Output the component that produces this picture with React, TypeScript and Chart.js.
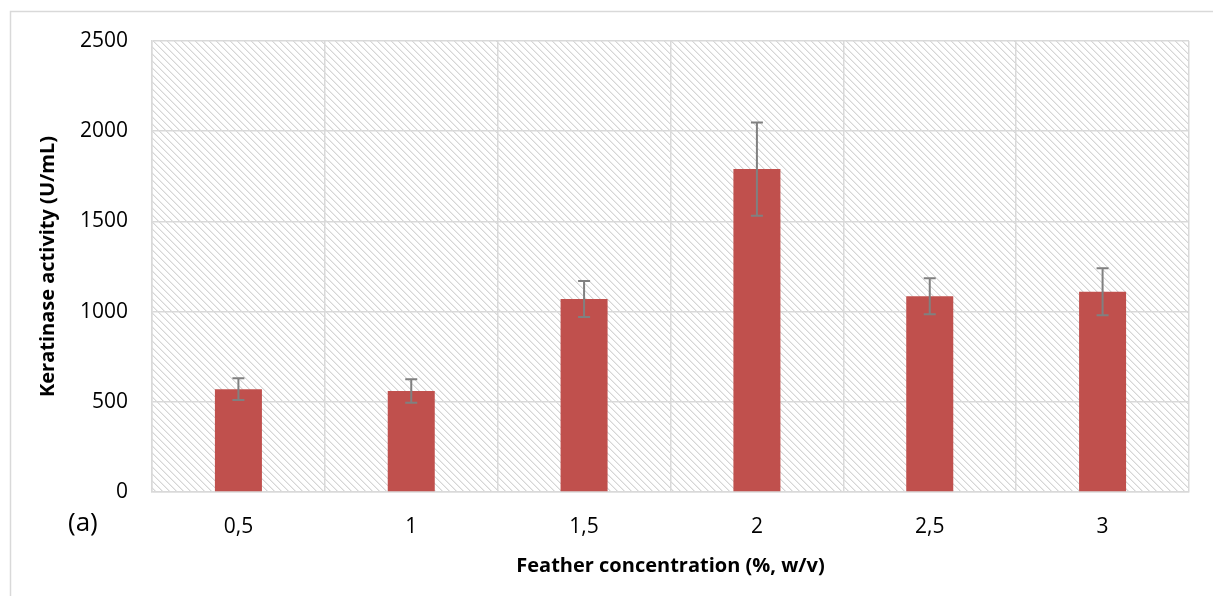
import React, { useEffect, useRef } from "react";
import { Chart, registerables } from "chart.js";

Chart.register(...registerables);

const categories = ["0,5", "1", "1,5", "2", "2,5", "3"];
const activity = [570, 560, 1070, 1790, 1085, 1110];
const errors = [60, 65, 100, 258, 100, 130];
const yTicks = [0, 500, 1000, 1500, 2000, 2500];

const FONT = "'Open Sans', sans-serif";

function makePattern(ctx: CanvasRenderingContext2D) {
  const size = 7;
  const c = document.createElement("canvas");
  c.width = size;
  c.height = size;
  const g = c.getContext("2d")!;
  g.fillStyle = "#ffffff";
  g.fillRect(0, 0, size, size);
  for (let y = 0; y < size; y++) {
    g.fillStyle = "#d6d6d6";
    g.fillRect(y % size, y, 1, 1);
    g.fillStyle = "#ececec";
    g.fillRect((y + 1) % size, y, 1, 1);
  }
  return ctx.createPattern(c, "repeat")!;
}

const decorPlugin = {
  id: "decor",
  beforeDraw(chart: any) {
    const { ctx, chartArea } = chart;
    ctx.save();
    ctx.fillStyle = "#ffffff";
    ctx.fillRect(0, 0, chart.width, chart.height);
    ctx.strokeStyle = "#d9d9d9";
    ctx.lineWidth = 1.5;
    ctx.beginPath();
    ctx.moveTo(10.5, chart.height + 5);
    ctx.lineTo(10.5, 11.5);
    ctx.lineTo(chart.width + 5, 11.5);
    ctx.stroke();
    ctx.fillStyle = makePattern(ctx);
    ctx.fillRect(chartArea.left, chartArea.top, chartArea.right - chartArea.left, chartArea.bottom - chartArea.top);
    ctx.fillStyle = "#000000";
    ctx.font = `26px ${FONT}`;
    ctx.textAlign = "left";
    ctx.textBaseline = "middle";
    ctx.fillText("(a)", 68, 524);
    ctx.restore();
  },
  afterDatasetsDraw(chart: any) {
    const { ctx } = chart;
    const meta = chart.getDatasetMeta(0);
    const yScale = chart.scales.y;
    ctx.save();
    ctx.strokeStyle = "#808080";
    ctx.lineWidth = 2;
    meta.data.forEach((bar: any, i: number) => {
      const x = bar.x;
      const top = yScale.getPixelForValue(activity[i] + errors[i]);
      const bot = yScale.getPixelForValue(activity[i] - errors[i]);
      ctx.beginPath();
      ctx.moveTo(x, top);
      ctx.lineTo(x, bot);
      ctx.moveTo(x - 6, top);
      ctx.lineTo(x + 6, top);
      ctx.moveTo(x - 6, bot);
      ctx.lineTo(x + 6, bot);
      ctx.stroke();
    });
    ctx.restore();
  },
};

export default function App() {
  const ref = useRef<HTMLCanvasElement>(null);
  useEffect(() => {
    const chart = new Chart(ref.current!, {
      type: "bar",
      data: {
        labels: categories,
        datasets: [
          {
            data: activity,
            backgroundColor: "#C0504D",
            borderWidth: 0,
            categoryPercentage: 1,
            barPercentage: 0.272,
          },
        ],
      },
      options: {
        animation: false,
        responsive: false,
        layout: { padding: { left: 0, top: 41, right: 24, bottom: 0 } },
        plugins: { legend: { display: false }, tooltip: { enabled: false } },
        scales: {
          x: {
            offset: true,
            grid: { offset: true, color: "#d9d9d9", lineWidth: 1.5, drawTicks: false },
            border: { color: "#d9d9d9", width: 1.5 },
            ticks: { color: "#000", font: { family: FONT, size: 21 }, padding: 22 },
            title: {
              display: true,
              text: "Feather concentration (%, w/v)",
              color: "#000",
              font: { family: FONT, size: 20, weight: "bold" },
              padding: { top: 0, bottom: 18 },
            },
            afterFit: (s: any) => {
              s.height = 104;
            },
          },
          y: {
            min: 0,
            max: 2500,
            afterBuildTicks: (s: any) => {
              s.ticks = yTicks.map((v) => ({ value: v }));
            },
            grid: { color: "#d9d9d9", lineWidth: 1.5, drawTicks: false },
            border: { color: "#d9d9d9", width: 1.5 },
            ticks: {
              color: "#000",
              font: { family: FONT, size: 21 },
              padding: 24,
              callback: (v: any) => String(v),
            },
            title: {
              display: true,
              text: "Keratinase activity (U/mL)",
              color: "#000",
              font: { family: FONT, size: 20, weight: "bold" },
              padding: { top: 36, bottom: 0 },
            },
            afterFit: (s: any) => {
              s.width = 152;
            },
          },
        },
      },
      plugins: [decorPlugin],
    });
    return () => chart.destroy();
  }, []);
  return (
    <div style={{ position: "fixed", left: 0, top: 0, width: 1213, height: 596, background: "#fff" }}>
      <canvas ref={ref} width={1213} height={596} style={{ display: "block" }} />
    </div>
  );
}
